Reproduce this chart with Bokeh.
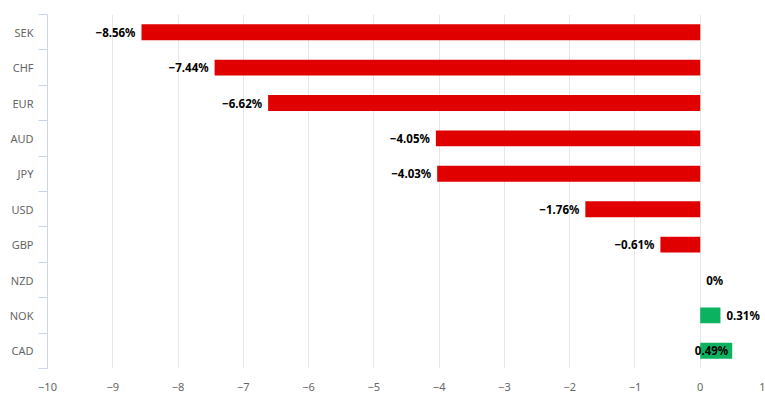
from bokeh.plotting import figure
from bokeh.models import ColumnDataSource, FixedTicker, Range1d
from bokeh.core.properties import value
from bokeh.embed import file_html
from bokeh.resources import INLINE

currencies = ["SEK", "CHF", "EUR", "AUD", "JPY", "USD", "GBP", "NZD", "NOK", "CAD"]
changes = [-8.56, -7.44, -6.62, -4.05, -4.03, -1.76, -0.61, 0.0, 0.31, 0.49]
x_ticks = [-10, -9, -8, -7, -6, -5, -4, -3, -2, -1, 0, 1]

RED = "#e00000"
GREEN = "#0bb361"
FONT = "Noto Sans"

n = len(currencies)
ys = [n - 1 - i for i in range(n)]
X_START, X_END = -10, 1

p = figure(width=765, height=409, output_backend="svg", toolbar_location=None,
           x_range=Range1d(X_START, X_END), y_range=Range1d(-0.5, n - 0.5),
           min_border_left=47, min_border_right=0, min_border_top=14, min_border_bottom=41)
p.outline_line_color = None
p.background_fill_color = "white"

# grid
p.xgrid.ticker = FixedTicker(ticks=x_ticks)
p.xgrid.grid_line_color = "#e6e6e6"
p.ygrid.grid_line_color = None

bar_colors = [RED if v < 0 else GREEN for v in changes]
src = ColumnDataSource(dict(y=ys, v=changes, c=bar_colors))
p.hbar(y="y", left=0, right="v", height=0.45, fill_color="c", line_color=None, source=src)

# labels
unit_px = 718 / (X_END - X_START)
lab_w = 0.55  # approx label width in data units
pos_l, pos_r = dict(x=[], y=[], t=[]), dict(x=[], y=[], t=[])
for y, v in zip(ys, changes):
    txt = ("−" if v < 0 else "") + (f"{abs(v):g}" if v == 0 else f"{abs(v):.2f}") + "%"
    if v < 0:
        pos_r["x"].append(v - 6 / unit_px); pos_r["y"].append(y); pos_r["t"].append(txt)
    else:
        start = v + 6 / unit_px
        if start + lab_w > X_END:
            pos_r["x"].append(v - 4 / unit_px); pos_r["y"].append(y); pos_r["t"].append(txt)
        else:
            pos_l["x"].append(start); pos_l["y"].append(y); pos_l["t"].append(txt)

for d, align in ((pos_l, "left"), (pos_r, "right")):
    p.text(x="x", y="y", text="t", source=ColumnDataSource(d), text_align=align,
           text_baseline="middle", text_font=value(FONT), text_font_size="11.5px",
           text_font_style="bold", text_color="black")

# x axis
xa = p.xaxis[0]
xa.ticker = FixedTicker(ticks=x_ticks)
xa.major_label_overrides = {t: (str(t).replace("-", "−")) for t in x_ticks}
xa.axis_line_color = None
xa.major_tick_line_color = None
xa.minor_tick_line_color = None
xa.major_label_text_font = FONT
xa.major_label_text_font_size = "11px"
xa.major_label_text_color = "#666666"
xa.major_label_standoff = 8

# y axis
ya = p.yaxis[0]
ya.ticker = FixedTicker(ticks=ys, minor_ticks=[i - 0.5 for i in range(n + 1)])
ya.major_label_overrides = {y: c for y, c in zip(ys, currencies)}
ya.axis_line_color = "#ccd6eb"
ya.major_tick_line_color = None
ya.minor_tick_line_color = "#ccd6eb"
ya.minor_tick_out = 9
ya.minor_tick_in = 0
ya.major_label_text_font = FONT
ya.major_label_text_font_size = "11px"
ya.major_label_text_color = "#666666"
ya.major_label_standoff = 5

open("out.html", "w").write(file_html(p, INLINE))
